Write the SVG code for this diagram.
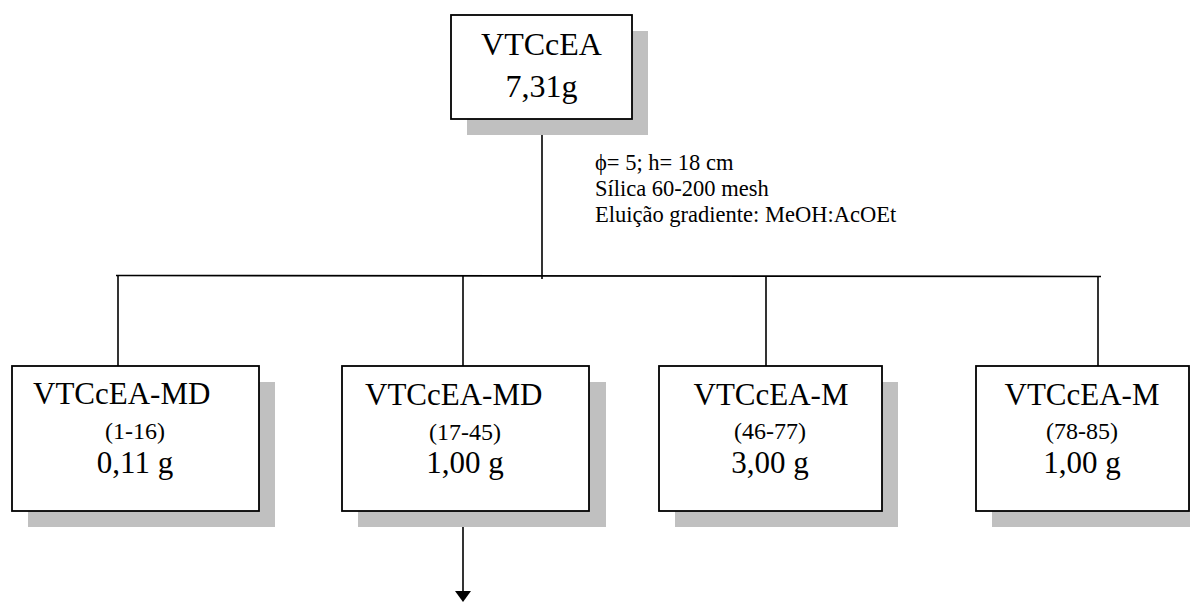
<svg xmlns="http://www.w3.org/2000/svg" width="1190" height="602" viewBox="0 0 1190 602">
<style>
text{font-family:"Liberation Serif","Times New Roman",serif;fill:#000}
.shadow{fill:#c0c0c0;stroke:none}
.box{fill:#fff;stroke:#000;stroke-width:1.8}
.ln{stroke:#000;stroke-width:1.6;fill:none}
.t{font-size:31px}
.s{font-size:24px}
.d{font-size:22.5px}
.c{text-anchor:middle}
</style>
<rect width="1190" height="602" fill="#fff"/>
<g id="connectors">
<line class="ln" x1="542" y1="119" x2="542" y2="279"/>
<line class="ln" x1="116" y1="275.5" x2="1101" y2="276.5"/>
<line class="ln" x1="118" y1="276" x2="118" y2="366"/>
<line class="ln" x1="463" y1="276" x2="463" y2="366"/>
<line class="ln" x1="766" y1="276" x2="766" y2="366"/>
<line class="ln" x1="1098" y1="276" x2="1098" y2="366"/>
<line class="ln" x1="463" y1="511" x2="463" y2="592"/>
<polygon points="455,591 471,591 463,602" fill="#000"/>
</g>
<g id="root">
<rect class="shadow" x="467" y="31" width="181" height="104"/>
<rect class="box" x="451" y="15" width="181" height="104"/>
<text class="t c" x="541.5" y="55" style="font-size:32px">VTCcEA</text>
<text class="t c" x="541.5" y="97" style="font-size:32px">7,31g</text>
</g>
<g id="conditions">
<text class="d" x="595" y="170">ϕ= 5; h= 18 cm</text>
<text class="d" x="595" y="196">Sílica 60-200 mesh</text>
<text class="d" x="595" y="222">Eluição gradiente: MeOH:AcOEt</text>
</g>
<g id="n1">
<rect class="shadow" x="28" y="382" width="247" height="145"/>
<rect class="box" x="12" y="366" width="247" height="145"/>
<text class="t" x="33" y="404">VTCcEA-MD</text>
<text class="s c" x="135" y="439">(1-16)</text>
<text class="t c" x="135" y="473">0,11 g</text>
</g>
<g id="n2">
<rect class="shadow" x="358" y="382" width="248" height="145"/>
<rect class="box" x="342" y="366" width="247" height="145"/>
<text class="t" x="365" y="405">VTCcEA-MD</text>
<text class="s c" x="465" y="440">(17-45)</text>
<text class="t c" x="465" y="473">1,00 g</text>
</g>
<g id="n3">
<rect class="shadow" x="675" y="382" width="223" height="145"/>
<rect class="box" x="659" y="366" width="223" height="145"/>
<text class="t c" x="771" y="405">VTCcEA-M</text>
<text class="s c" x="770" y="439">(46-77)</text>
<text class="t c" x="770" y="473">3,00 g</text>
</g>
<g id="n4">
<rect class="shadow" x="992" y="382" width="213" height="145"/>
<rect class="box" x="976" y="366" width="213" height="145"/>
<text class="t c" x="1082" y="405">VTCcEA-M</text>
<text class="s c" x="1082" y="439">(78-85)</text>
<text class="t c" x="1082" y="473">1,00 g</text>
</g>
</svg>
